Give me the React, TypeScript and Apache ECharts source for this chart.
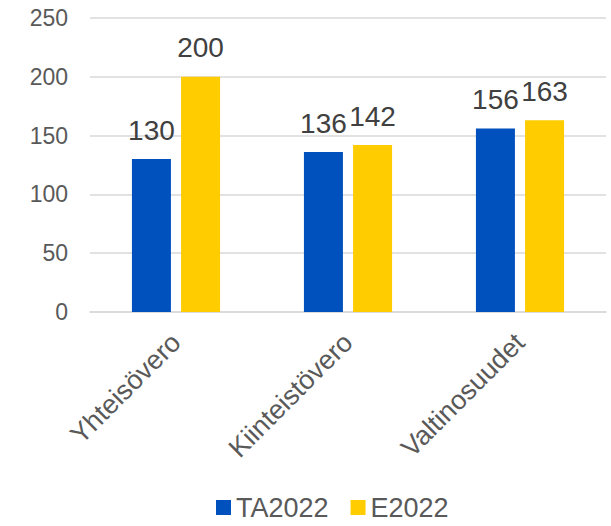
import React, { useEffect, useRef } from "react";
import * as echarts from "echarts";

const categories = ["Yhteisövero", "Kiinteistövero", "Valtinosuudet"];
const seriesNames = ["TA2022", "E2022"];
const ta2022 = [130, 136, 156];
const e2022 = [200, 142, 163];
const colors = ["#0050BE", "#FFCC00"];

export default function App() {
  const ref = useRef<HTMLDivElement>(null);
  useEffect(() => {
    const chart = echarts.init(ref.current!, null, { renderer: "svg" });
    const font = "Liberation Sans, Arial, sans-serif";
    const mkSeries = (name: string, data: number[], color: string) => ({
      name,
      type: "bar",
      data,
      barWidth: 39,
      barGap: "26%",
      itemStyle: { color },
      label: {
        show: true,
        position: "top",
        distance: 15,
        color: "#404040",
        fontSize: 28,
        fontFamily: font,
      },
    });
    chart.setOption({
      animation: false,
      textStyle: { fontFamily: font },
      grid: { left: 90, right: 5, top: 18, bottom: 214 },
      legend: {
        bottom: 0,
        left: 211,
        itemWidth: 15,
        itemHeight: 15,
        itemGap: 22,
        icon: "rect",
        textStyle: { fontSize: 27, color: "#595959", fontFamily: font },
        data: seriesNames,
      },
      xAxis: {
        type: "category",
        data: categories,
        axisLine: { lineStyle: { color: "#D9D9D9", width: 1.5 } },
        axisTick: { show: false },
        axisLabel: {
          rotate: 45,
          fontSize: 27,
          color: "#595959",
          margin: 26,
          fontFamily: font,
        },
      },
      yAxis: {
        type: "value",
        min: 0,
        max: 250,
        interval: 50,
        axisLine: { show: false },
        axisTick: { show: false },
        splitLine: { lineStyle: { color: "#D9D9D9", width: 1.5 } },
        axisLabel: { fontSize: 23, color: "#595959", margin: 22, fontFamily: font },
      },
      series: [
        mkSeries(seriesNames[0], ta2022, colors[0]),
        mkSeries(seriesNames[1], e2022, colors[1]),
      ],
    });
    return () => chart.dispose();
  }, []);
  return (
    <div
      ref={ref}
      style={{ position: "fixed", left: 0, top: 0, width: 611, height: 526, background: "#fff" }}
    />
  );
}
